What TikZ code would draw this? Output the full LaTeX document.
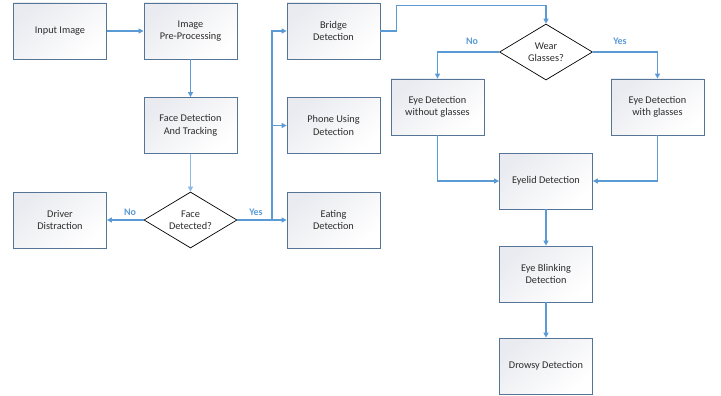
\documentclass[tikz,border=0pt]{standalone}
\usepackage{fontspec}
\setmainfont{Carlito}
\usetikzlibrary{shapes.geometric,arrows.meta}
\definecolor{boxline}{RGB}{84,117,150}
\definecolor{boxfill}{RGB}{234,235,240}
\definecolor{flow}{RGB}{91,155,213}
\definecolor{flowlight}{RGB}{140,185,228}
\definecolor{txt}{RGB}{45,45,45}
\begin{document}
\begin{tikzpicture}[x=1pt,y=-1pt,
    stage/.style={draw=boxline,line width=.8pt,top color=boxfill,bottom color=white,
        shading angle=40,minimum width=93pt,minimum height=56pt,align=center,
        text=txt,font=\fontsize{10.3}{12.5}\selectfont,inner sep=2pt},
    query/.style={draw=black,line width=.7pt,diamond,aspect=1.66,fill=white,
        minimum width=93pt,minimum height=56pt,inner sep=0pt,align=center,
        text=txt,font=\fontsize{10.3}{12.5}\selectfont},
    flowline/.style={draw=flow,line width=1.3pt,-{Triangle[length=5pt,width=5pt]}},
    answer/.style={text=flow,font=\fontsize{10}{12}\selectfont\bfseries}]
\useasboundingbox (0,0) rectangle (721,396);

\node (input) [stage] at (60,31) {Input Image};
\node (prep) [stage] at (190.5,31) {Image\\Pre-Processing};
\node (face) [stage] at (190.5,125.5) {Face Detection\\And Tracking};
\node (facedet) [query] at (190.5,220) {Face\\Detected?};
\node (driver) [stage] at (60,220) {Driver\\Distraction};
\node (bridge) [stage] at (333.5,31) {Bridge\\Detection};
\node (phone) [stage] at (333.5,125.5) {Phone Using\\Detection};
\node (eating) [stage] at (333.5,220) {Eating\\Detection};

\node (wear) [query] at (546,52) {Wear\\Glasses?};
\node (eyeno) [stage] at (437.5,107) {Eye Detection\\without glasses};
\node (eyeyes) [stage] at (657.5,107) {Eye Detection\\with glasses};
\node (eyelid) [stage] at (546,181) {Eyelid Detection};
\node (blink) [stage] at (546,274) {Eye Blinking\\Detection};
\node (drowsy) [stage] at (546,366) {Drowsy Detection};

\draw[flowline] (input) -- (prep);
\draw[flowline] (prep) -- (face);
\draw[flowline,draw=flowlight,line width=.8pt] (face) -- (facedet);
\draw[flowline] (facedet.west) -- (driver.east);
\draw[flowline] (facedet.east) -- (eating.west);
\coordinate (split) at (272,220);
\draw[flowline] (split) |- (phone.west);
\draw[flowline] (split) |- (bridge.west);
\node (no1) [answer] at (130,212) {No};
\node (yes1) [answer] at (256,212) {Yes};

\draw[flowline] (bridge.east) -- ++(16,0) |- ([yshift=18pt]wear.north) -- (wear.north);
\draw[flowline] (wear.west) -| (eyeno.north);
\draw[flowline] (wear.east) -| (eyeyes.north);
\node (no2) [answer] at (472,41) {No};
\node (yes2) [answer] at (620,41) {Yes};
\draw[flowline] (eyeno.south) |- (eyelid.west);
\draw[flowline] (eyeyes.south) |- (eyelid.east);
\draw[flowline] (eyelid) -- (blink);
\draw[flowline] (blink) -- (drowsy);
\end{tikzpicture}
\end{document}
